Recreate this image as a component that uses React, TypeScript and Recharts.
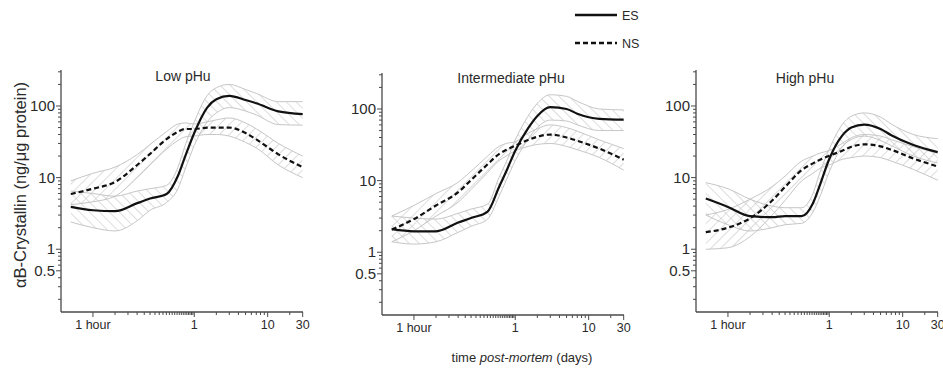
import { ComposedChart, Area, Line, XAxis, YAxis } from "recharts";

// sampling times, days post-mortem
const TIMES = [0.0208, 0.0417, 0.0833, 0.167, 0.25, 0.42, 0.6, 0.75, 1, 1.5, 2, 3, 5, 7, 14, 30];

// Low pHu
const LOW_ES = [3.9, 3.5, 3.4, 4.4, 5.1, 5.9, 10.6, 19.6, 42, 95, 124, 138, 121, 109, 84, 77];
const LOW_ES_LO = [2.4, 2.0, 1.8, 2.5, 3.5, 4.5, 7, 13, 28, 60, 80, 95, 85, 75, 55, 54];
const LOW_ES_HI = [6.5, 6.0, 5.5, 6.5, 7.0, 7.8, 14, 28, 60, 140, 180, 200, 170, 150, 115, 115];
const LOW_NS = [5.9, 7.0, 8.7, 15, 21.5, 34.5, 43.8, 47.7, 47.7, 49.8, 50, 50, 41.9, 34.2, 21.1, 14];
const LOW_NS_LO = [4.2, 4.6, 5.5, 10, 15, 25, 33, 37, 38, 40, 40, 38, 31, 26, 15, 10];
const LOW_NS_HI = [9, 11.5, 14, 21, 29, 44, 56, 58, 56, 60, 64, 68, 58, 48, 30, 20];

// Intermediate pHu
const MID_ES = [2.1, 1.96, 1.96, 2.6, 3.0, 3.7, 8.1, 13.3, 26.2, 54, 80, 106, 100, 86, 73, 71];
const MID_ES_LO = [1.4, 1.3, 1.4, 1.9, 2.3, 2.9, 6, 10, 19, 38, 55, 70, 68, 60, 50, 50];
const MID_ES_HI = [3.2, 3.0, 2.9, 3.5, 4.0, 4.7, 11, 18, 37, 80, 120, 158, 150, 128, 100, 97];
const MID_NS = [2.07, 2.9, 4.5, 6.9, 10.2, 16.9, 23.5, 26.7, 30.7, 36.9, 41, 44, 40, 36, 28, 19.6];
const MID_NS_LO = [1.4, 2.0, 3.2, 5, 7.5, 13, 19, 22, 26, 30, 32, 33, 30, 27, 21, 14];
const MID_NS_HI = [3.2, 4.5, 6.6, 9.5, 13.5, 22, 30, 33, 35, 46, 53, 60, 55, 49, 37, 28];

// High pHu
const HIGH_ES = [5.1, 3.9, 2.9, 2.8, 2.9, 2.9, 4.4, 8.0, 18.2, 38.5, 50, 55, 47.7, 39, 28.5, 22.7];
const HIGH_ES_LO = [3.0, 2.2, 1.8, 2.0, 2.2, 2.3, 3.3, 5.5, 12, 27, 34, 38, 33, 28, 20, 16];
const HIGH_ES_HI = [8.5, 7.0, 5.0, 4.0, 3.8, 3.8, 6, 12, 25, 55, 72, 80, 70, 56, 40, 35];
const HIGH_NS = [1.73, 2.0, 2.7, 4.8, 7.4, 12.7, 15.8, 17.8, 20.2, 23.7, 27, 29.1, 27.3, 24.5, 18.5, 14.3];
const HIGH_NS_LO = [1.0, 1.05, 1.5, 3, 4.8, 9, 11.5, 13.5, 15, 18, 19, 20, 19, 17, 13, 9.2];
const HIGH_NS_HI = [3.0, 3.6, 5, 7.5, 10.5, 17, 20, 22, 24, 30, 36, 40, 38, 34, 27, 22];

// axis ticks
const HOURS = [1, 2, 3, 4, 5, 6, 7, 8, 9, 10, 11, 12, 13, 14, 15, 16, 17, 18, 19, 20, 21, 22, 23];
const DAYS = [1, 2, 3, 4, 5, 6, 7, 8, 9, 10, 20, 30];
const X_MAJOR = [1 / 24, 1, 10, 30];
const X_MAJOR_LABELS = ["1 hour", "1", "10", "30"];
const Y_TICKS = [0.2, 0.3, 0.4, 0.5, 0.6, 0.7, 0.8, 0.9, 1, 2, 3, 4, 5, 6, 7, 8, 9, 10, 20, 30, 40, 50, 60, 70, 80, 90, 100, 200, 300];
const Y_MAJOR = [0.5, 1, 10, 100];
const Y_MAJOR_LABELS = ["0.5", "1", "10", "100"];

const X_TICKS = [...HOURS.map((h) => h / 24), ...DAYS];
const X_DOMAIN = [0.0153, 30.3];
const Y_DOMAIN = [0.133, 318];

const FONT = "'Liberation Sans', Arial, sans-serif";
const AXIS = "#4a4a4a";
const TEXT = "#2a2a2a";

const findMajor = (v: number, list: number[]) => list.findIndex((m) => Math.abs(v - m) / m < 1e-3);

const XTick = (props: any) => {
  const { x, y, payload } = props;
  const i = findMajor(payload.value, X_MAJOR);
  return (
    <g>
      <line x1={x} x2={x} y1={y} y2={y + (i >= 0 ? 5 : 3)} stroke={AXIS} strokeWidth={1} />
      {i >= 0 && (
        <text x={x} y={y + 17} textAnchor="middle" fontSize={12.5} fill={TEXT} fontFamily={FONT}>
          {X_MAJOR_LABELS[i]}
        </text>
      )}
    </g>
  );
};

const YTick = (props: any) => {
  const { x, y, payload } = props;
  const i = findMajor(payload.value, Y_MAJOR);
  return (
    <g>
      <line x1={x} x2={x - (i >= 0 ? 5 : 3)} y1={y} y2={y} stroke={AXIS} strokeWidth={1} />
      {i >= 0 && (
        <text x={x - 6} y={y + 5} textAnchor="end" fontSize={15} fill={TEXT} fontFamily={FONT}>
          {Y_MAJOR_LABELS[i]}
        </text>
      )}
    </g>
  );
};

type PanelProps = {
  id: string;
  title: string;
  titleX: number;
  titleY: number;
  left: number;
  top: number;
  es: number[];
  esLo: number[];
  esHi: number[];
  ns: number[];
  nsLo: number[];
  nsHi: number[];
};

const Y_AXIS_W = 45;

const Panel = ({ id, title, titleX, titleY, left, top, es, esLo, esHi, ns, nsLo, nsHi }: PanelProps) => {
  const data = TIMES.map((t, i) => ({
    t,
    es: es[i],
    ns: ns[i],
    esBand: [esLo[i], esHi[i]],
    nsBand: [nsLo[i], nsHi[i]],
  }));
  return (
    <>
      <div style={{ position: "absolute", left: left - Y_AXIS_W, top: top - 10 }}>
        <ComposedChart width={307} height={282} data={data} margin={{ top: 10, right: 20, bottom: 0, left: 0 }} style={{ overflow: "visible" }}>
          <defs>
            <pattern id={`es-${id}`} patternUnits="userSpaceOnUse" width={7} height={7} patternTransform="rotate(-45)">
              <line x1={0} y1={0} x2={0} y2={7} stroke="#bcbcbc" strokeWidth={1} />
            </pattern>
            <pattern id={`ns-${id}`} patternUnits="userSpaceOnUse" width={7} height={7} patternTransform="rotate(45)">
              <line x1={0} y1={0} x2={0} y2={7} stroke="#bcbcbc" strokeWidth={1} />
            </pattern>
          </defs>
          <XAxis
            dataKey="t"
            type="number"
            scale="log"
            domain={X_DOMAIN}
            allowDataOverflow
            ticks={X_TICKS}
            interval={0}
            tick={<XTick />}
            tickLine={false}
            tickSize={0}
            tickMargin={0}
            height={30}
            axisLine={{ stroke: AXIS, strokeWidth: 1.3 }}
          />
          <YAxis
            type="number"
            scale="log"
            domain={Y_DOMAIN}
            allowDataOverflow
            ticks={Y_TICKS}
            interval={0}
            tick={<YTick />}
            tickLine={false}
            tickSize={0}
            tickMargin={0}
            width={Y_AXIS_W}
            axisLine={{ stroke: AXIS, strokeWidth: 1.3 }}
          />
          <Area dataKey="esBand" type="monotone" stroke="#c6c6c6" strokeWidth={1} fill={`url(#es-${id})`} fillOpacity={1} isAnimationActive={false} dot={false} activeDot={false} />
          <Area dataKey="nsBand" type="monotone" stroke="#c6c6c6" strokeWidth={1} fill={`url(#ns-${id})`} fillOpacity={1} isAnimationActive={false} dot={false} activeDot={false} />
          <Line dataKey="ns" type="monotone" stroke="#111" strokeWidth={2.2} strokeDasharray="5 3" dot={false} activeDot={false} isAnimationActive={false} />
          <Line dataKey="es" type="monotone" stroke="#111" strokeWidth={2.2} dot={false} activeDot={false} isAnimationActive={false} />
        </ComposedChart>
      </div>
      <div
        style={{
          position: "absolute",
          left: titleX,
          top: titleY,
          transform: "translate(-50%, -50%)",
          fontSize: 14,
          color: TEXT,
          whiteSpace: "nowrap",
        }}
      >
        {title}
      </div>
    </>
  );
};

export default function App() {
  return (
    <div
      style={{
        position: "absolute",
        left: 0,
        top: 0,
        width: 943,
        height: 370,
        background: "#fff",
        fontFamily: FONT,
        overflow: "hidden",
      }}
    >
      <Panel id="low" title="Low pHu" titleX={183} titleY={76} left={61} top={70}
        es={LOW_ES} esLo={LOW_ES_LO} esHi={LOW_ES_HI} ns={LOW_NS} nsLo={LOW_NS_LO} nsHi={LOW_NS_HI} />
      <Panel id="mid" title="Intermediate pHu" titleX={511} titleY={78} left={382} top={73}
        es={MID_ES} esLo={MID_ES_LO} esHi={MID_ES_HI} ns={MID_NS} nsLo={MID_NS_LO} nsHi={MID_NS_HI} />
      <Panel id="high" title="High pHu" titleX={805} titleY={78} left={696} top={70}
        es={HIGH_ES} esLo={HIGH_ES_LO} esHi={HIGH_ES_HI} ns={HIGH_NS} nsLo={HIGH_NS_LO} nsHi={HIGH_NS_HI} />

      <div
        style={{
          position: "absolute",
          left: 20,
          top: 185,
          transform: "translate(-50%, -50%) rotate(-90deg)",
          fontSize: 16.5,
          color: TEXT,
          whiteSpace: "nowrap",
        }}
      >
        αB-Crystallin (ng/μg protein)
      </div>
      <div
        style={{
          position: "absolute",
          left: 522,
          top: 357,
          transform: "translate(-50%, -50%)",
          fontSize: 13,
          color: TEXT,
          whiteSpace: "nowrap",
        }}
      >
        time <i>post-mortem</i> (days)
      </div>

      <svg style={{ position: "absolute", left: 560, top: 0 }} width={100} height={60}>
        <line x1={15} x2={57} y1={15} y2={15} stroke="#111" strokeWidth={2.5} />
        <text x={62} y={19.5} fontSize={12.5} fill={TEXT} fontFamily={FONT}>ES</text>
        <line x1={15} x2={57} y1={43} y2={43} stroke="#111" strokeWidth={2.5} strokeDasharray="5 3" />
        <text x={62} y={47.5} fontSize={12.5} fill={TEXT} fontFamily={FONT}>NS</text>
      </svg>
    </div>
  );
}
